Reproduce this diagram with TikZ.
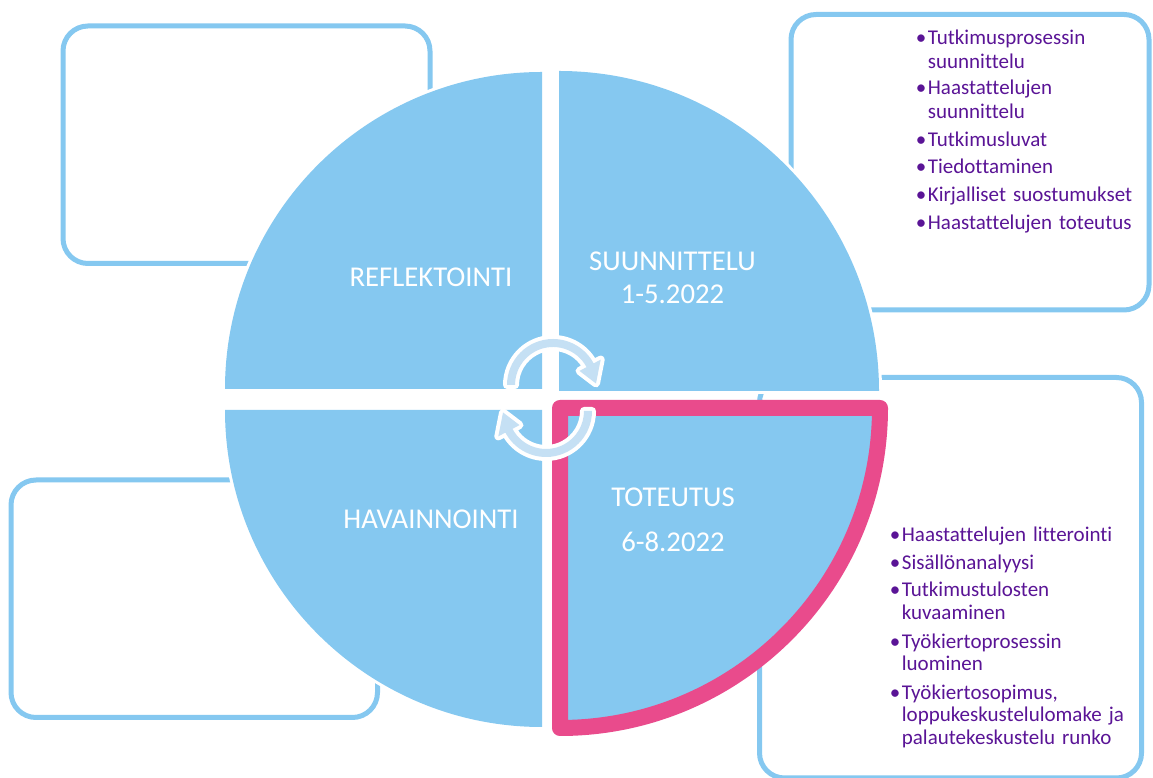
\documentclass[tikz,border=0pt]{standalone}
\usepackage{fontspec}
\setmainfont{Carlito}[Ligatures={NoCommon}]
\definecolor{qblue}{RGB}{133,200,240}
\definecolor{pinkline}{RGB}{233,75,140}
\definecolor{listpurple}{RGB}{90,20,150}
\definecolor{arrowblue}{RGB}{197,224,244}
\newcommand{\bul}{\leavevmode\llap{\textbullet\hspace{1.5pt}}}
\begin{document}
\begin{tikzpicture}[x=1pt,y=1pt,
  box/.style={draw=qblue, line width=5pt, fill=white, rounded corners=25pt},
  quad/.style={fill=qblue, preaction={draw=white, line width=6pt, line join=round}},
  arrowshape/.style={fill=arrowblue, preaction={draw=white, line width=8pt, line join=round}},
  lbl/.style={text=white, font=\fontsize{28.7}{32}\selectfont, inner sep=0pt, anchor=base},
  itemA/.style={text=listpurple, font=\fontsize{21}{23.3}\selectfont, inner sep=0pt, anchor=base west, align=left, text width=260pt},
  itemB/.style={text=listpurple, font=\fontsize{21}{22.5}\selectfont, inner sep=0pt, anchor=base west, align=left, text width=260pt}
]
\useasboundingbox (0,0) rectangle (1153,778);
% side boxes
\draw[box] (63,514.5) rectangle (430,752);
\draw[box] (791,468) rectangle (1149,763.5);
\draw[box] (11,60.5) rectangle (377.5,298);
\draw[box] (759.5,0) rectangle (1141.5,400.5);
% quadrants
\path[quad] (542,389) -- ++(-317pt,0) arc[start angle=180,end angle=90,radius=317pt] -- cycle;
\path[quad] (559,387) -- ++(0,320pt) arc[start angle=90,end angle=0,radius=320pt] -- cycle;
\path[quad] (542,368) -- ++(0,-317pt) arc[start angle=270,end angle=180,radius=317pt] -- cycle;
\path[quad] (560,370) -- ++(320pt,0) arc[start angle=0,end angle=-90,radius=320pt] -- cycle;
% highlighted quadrant
\draw[pinkline, line width=16pt, line join=round] (560,370) -- ++(320pt,0) arc[start angle=0,end angle=-90,radius=320pt] -- cycle;
% circular arrows
\path[arrowshape, shift={(553,393)}] (180:46pt) arc[start angle=180,end angle=28,radius=46pt] -- (28:54pt) -- (2:43pt) -- (28:30pt) -- (28:38pt) arc[start angle=28,end angle=180,radius=38pt] -- cycle;
\path[arrowshape, shift={(546,367)}, rotate=180] (180:46pt) arc[start angle=180,end angle=28,radius=46pt] -- (28:54pt) -- (2:43pt) -- (28:30pt) -- (28:38pt) arc[start angle=28,end angle=180,radius=38pt] -- cycle;
% quadrant labels
\node[lbl] (refl) at (431,491.3) {REFLEKTOINTI};
\node[lbl] (suun) at (672.5,507.3) {SUUNNITTELU};
\node[lbl] (suund) at (672.5,474.7) {1-5.2022};
\node[lbl] (tot) at (673,271.3) {TOTEUTUS};
\node[lbl] (totd) at (673,226.3) {6-8.2022};
\node[lbl] (hav) at (431,249.7) {HAVAINNOINTI};
% planning list
\node[itemA] (t1) at (927.7,733) {\bul Tutkimusprosessin\\suunnittelu};
\node[itemA] (t2) at (927.7,683) {\bul Haastattelujen\\suunnittelu};
\node[itemA] (t3) at (927.7,631.3) {\bul Tutkimusluvat};
\node[itemA] (t4) at (927.7,604.7) {\bul Tiedottaminen};
\node[itemA] (t5) at (927.7,576.3) {\bul Kirjalliset suostumukset};
\node[itemA] (t6) at (927.7,548) {\bul Haastattelujen toteutus};
% implementation list
\node[itemB] (b1) at (901.7,236.3) {\bul Haastattelujen litterointi};
\node[itemB] (b2) at (901.7,208) {\bul Sisällönanalyysi};
\node[itemB] (b3) at (901.7,181.3) {\bul Tutkimustulosten\\kuvaaminen};
\node[itemB] (b4) at (901.7,129.7) {\bul Työkiertoprosessin\\luominen};
\node[itemB] (b5) at (901.7,78.7) {\bul Työkiertosopimus,\\loppukeskustelulomake ja\\palautekeskustelu runko};
\end{tikzpicture}
\end{document}
